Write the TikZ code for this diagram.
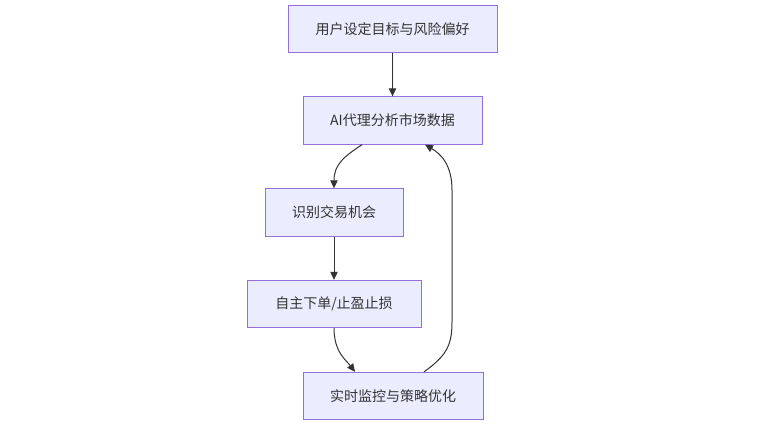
\documentclass[tikz,border=0pt]{standalone}
\usepackage{fontspec}
\setmainfont{Noto Sans CJK SC}
\usepackage{tikz}
\usetikzlibrary{arrows.meta,calc}
\definecolor{boxfill}{HTML}{ECECFF}
\definecolor{boxline}{HTML}{9370DB}
\definecolor{ink}{HTML}{333333}
\tikzset{
  box/.style={draw=boxline, fill=boxfill, line width=0.75pt, text=ink,
    minimum height=35.5pt, inner sep=0pt, font=\fontsize{10.5}{12}\selectfont},
  flow/.style={draw=ink, line width=0.75pt, -{Triangle[length=6pt,width=5.5pt]}}
}

\begin{document}
\begin{tikzpicture}[x=0.75pt,y=-0.75pt]
\useasboundingbox (0,0) rectangle (768,435);

\node [box, minimum width=156.75pt] (goal) at (392.5,29) {用户设定目标与风险偏好};
\node [box, minimum width=134.25pt] (agent) at (392.5,120.5) {AI代理分析市场数据};
\node [box, minimum width=103.5pt] (chance) at (334,212.5) {识别交易机会};
\node [box, minimum width=130.5pt] (order) at (334,304) {自主下单/止盈止损};
\node [box, minimum width=135pt] (watch) at (393,396) {实时监控与策略优化};

\draw [flow] (goal) -- (agent);
\draw [flow] ($(agent.south)+(-30.5,0)$) .. controls (345,156) and (334,164) .. (chance.north);
\draw [flow] (chance) -- (order);
\draw [flow] (order.south) .. controls (334,352) and (346,360) .. ($(watch.north)+(-38,0)$);
\draw [flow] ($(watch.north)+(31,0)$) .. controls (446,356) and (452,346) .. (452,322)
  -- (452,190) .. controls (452,165) and (441,154) .. ($(agent.south)+(32.5,0)$);
\end{tikzpicture}
\end{document}
